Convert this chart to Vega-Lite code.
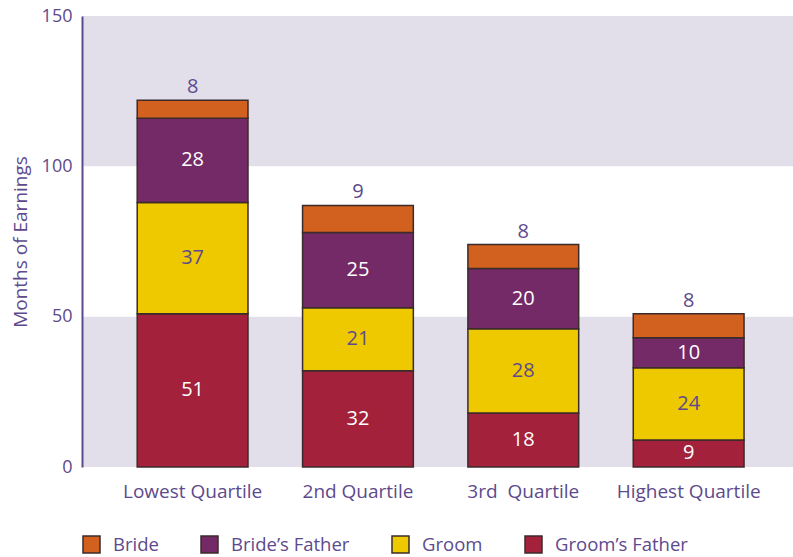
{
  "$schema": "https://vega.github.io/schema/vega-lite/v6.json",
  "width": 711,
  "height": 451,
  "autosize": {"type": "none"},
  "padding": {"left": 82, "top": 16, "right": 0, "bottom": 90},
  "background": "white",
  "config": {
    "font": "Open Sans",
    "view": {"stroke": null},
    "axisY": {
      "domainColor": "#5d4a8c", "domainWidth": 2, "ticks": false, "grid": false,
      "labelFontSize": 18, "labelColor": "#5d4a8c", "labelPadding": 10,
      "titleFontSize": 19, "titleColor": "#5d4a8c", "titleFontWeight": "normal", "titlePadding": 11
    },
    "axisX": {
      "domain": false, "ticks": false, "grid": false, "labelAngle": 0,
      "labelFontSize": 19, "labelColor": "#5d4a8c", "labelPadding": 15
    }
  },
  "datasets": {
    "bands": [{"lo": 0, "hi": 50}, {"lo": 100, "hi": 150}],
    "costs": [
      {"quartile": "Lowest Quartile", "series": "Groom’s Father", "months": 51, "label": "51"},
      {"quartile": "Lowest Quartile", "series": "Groom", "months": 37, "label": "37"},
      {"quartile": "Lowest Quartile", "series": "Bride’s Father", "months": 28, "label": "28"},
      {"quartile": "Lowest Quartile", "series": "Bride", "months": 6, "label": "8"},
      {"quartile": "2nd Quartile", "series": "Groom’s Father", "months": 32, "label": "32"},
      {"quartile": "2nd Quartile", "series": "Groom", "months": 21, "label": "21"},
      {"quartile": "2nd Quartile", "series": "Bride’s Father", "months": 25, "label": "25"},
      {"quartile": "2nd Quartile", "series": "Bride", "months": 9, "label": "9"},
      {"quartile": "3rd\u00a0 Quartile", "series": "Groom’s Father", "months": 18, "label": "18"},
      {"quartile": "3rd\u00a0 Quartile", "series": "Groom", "months": 28, "label": "28"},
      {"quartile": "3rd\u00a0 Quartile", "series": "Bride’s Father", "months": 20, "label": "20"},
      {"quartile": "3rd\u00a0 Quartile", "series": "Bride", "months": 8, "label": "8"},
      {"quartile": "Highest Quartile", "series": "Groom’s Father", "months": 9, "label": "9"},
      {"quartile": "Highest Quartile", "series": "Groom", "months": 24, "label": "24"},
      {"quartile": "Highest Quartile", "series": "Bride’s Father", "months": 10, "label": "10"},
      {"quartile": "Highest Quartile", "series": "Bride", "months": 8, "label": "8"}
    ]
  },
  "layer": [
    {
      "data": {"name": "bands"},
      "mark": {"type": "rect", "color": "#e2dfea"},
      "encoding": {
        "y": {"field": "lo", "type": "quantitative", "scale": {"domain": [0, 150], "nice": false}, "title": "Months of Earnings", "axis": {"values": [0, 50, 100, 150], "zindex": 2}},
        "y2": {"field": "hi"}
      }
    },
    {
      "data": {"name": "costs"},
      "transform": [
        {"stack": "months", "groupby": ["quartile"], "sort": [{"field": "series", "order": "descending"}], "as": ["y0", "y1"]},
        {"calculate": "(datum.y0 + datum.y1) / 2", "as": "ymid"}
      ],
      "encoding": {
        "x": {
          "field": "quartile", "type": "nominal", "title": null,
          "sort": ["Lowest Quartile", "2nd Quartile", "3rd\u00a0 Quartile", "Highest Quartile"],
          "scale": {"paddingInner": 0.33, "paddingOuter": 0.315, "align": 0.53}
        }
      },
      "layer": [
        {
          "mark": {"type": "bar", "stroke": "#3b2b2b", "strokeWidth": 1.5},
          "encoding": {
            "y": {"field": "y1", "type": "quantitative", "title": "Months of Earnings", "axis": {"values": [0, 50, 100, 150], "zindex": 2}},
            "y2": {"field": "y0"},
            "color": {
              "field": "series", "type": "nominal",
              "scale": {"domain": ["Bride", "Bride’s Father", "Groom", "Groom’s Father"], "range": ["#d2601f", "#732a66", "#eec900", "#a3213a"]},
              "legend": {
                "orient": "none", "legendX": 0, "legendY": 519, "direction": "horizontal",
                "title": null, "symbolType": "square", "symbolSize": 289,
                "symbolStrokeColor": "#3b2b2b", "symbolStrokeWidth": 1.5,
                "labelFontSize": 18.5, "labelColor": "#5d4a8c", "labelOffset": 12,
                "columnPadding": 39
              }
            }
          }
        },
        {
          "transform": [{"filter": "datum.series !== 'Bride'"}],
          "mark": {"type": "text", "fontSize": 20, "baseline": "middle", "align": "center"},
          "encoding": {
            "y": {"field": "ymid", "type": "quantitative", "title": "Months of Earnings", "axis": {"values": [0, 50, 100, 150], "zindex": 2}},
            "text": {"field": "label"},
            "color": {"condition": {"test": "datum.series === 'Groom'", "value": "#5d4a8c"}, "value": "white"}
          }
        },
        {
          "transform": [{"filter": "datum.series === 'Bride'"}],
          "mark": {"type": "text", "fontSize": 20, "baseline": "middle", "align": "center", "dy": -13, "color": "#5d4a8c"},
          "encoding": {
            "y": {"field": "y1", "type": "quantitative", "title": "Months of Earnings", "axis": {"values": [0, 50, 100, 150], "zindex": 2}},
            "text": {"field": "label"}
          }
        }
      ]
    }
  ]
}
